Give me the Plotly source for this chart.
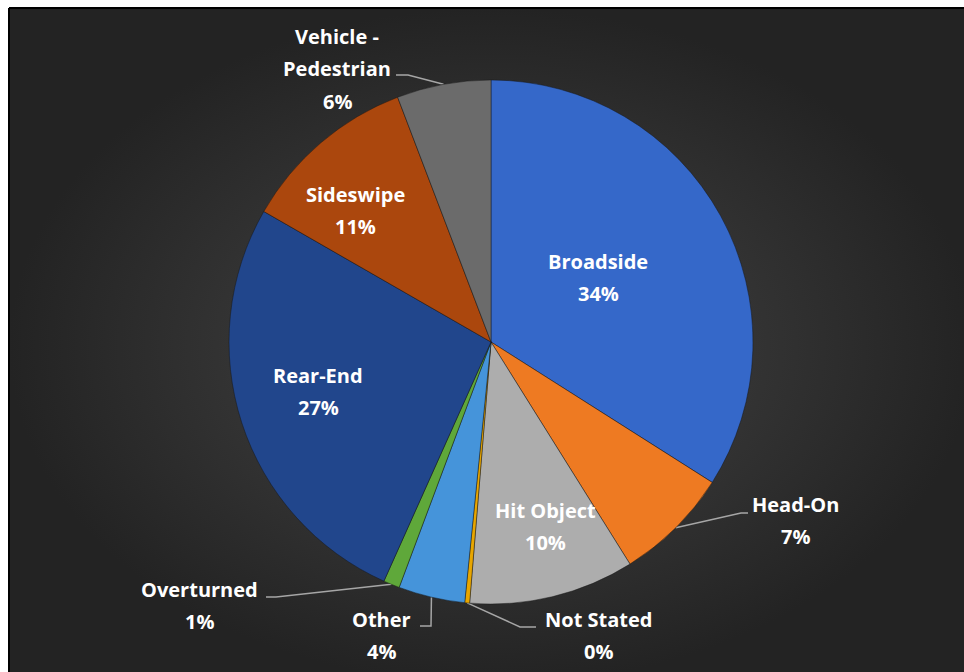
import numpy as np
import plotly.graph_objects as go

# ---- data ----
categories = ["Broadside", "Head-On", "Hit Object", "Not Stated", "Other",
              "Overturned", "Rear-End", "Sideswipe", "Vehicle - Pedestrian"]
values = [34.0, 7.1, 10.2, 0.3, 4.1, 1.0, 26.6, 10.9, 5.8]
colors = ["#3568C9", "#EE7A22", "#ADADAD", "#E8A600", "#4594DA",
          "#5FA83A", "#21468C", "#AB470D", "#6B6B6B"]

# label line splits (text) and layout positions (px from top-left)
label_lines = {
    "Vehicle - Pedestrian": ["Vehicle -", "Pedestrian"],
}
label_pos = {
    "Broadside": (598, 261),
    "Head-On": (795, 504),
    "Hit Object": (545, 510),
    "Not Stated": (598, 619),
    "Other": (381, 619),
    "Overturned": (199, 589),
    "Rear-End": (318, 375),
    "Sideswipe": (355, 194),
    "Vehicle - Pedestrian": (337, 36),
}
leaders = {
    "Head-On": [(741, 513), (748, 513)],
    "Not Stated": [(520, 627), (536, 627)],
    "Other": [(431, 626), (420, 626)],
    "Overturned": [(276, 597), (266, 597)],
    "Vehicle - Pedestrian": [(408, 75), (396, 75)],
}

W, H = 964, 672
cx, cy, R = 491, 342, 262
LINE_H = 32.5

fig = go.Figure()

# background panel with radial gradient
fig.add_trace(go.Scatter(
    x=[9, 975, 975, 9, 9], y=[8, 8, 685, 685, 8],
    mode="lines", fill="toself",
    line=dict(color="black", width=2),
    fillgradient=dict(type="radial",
                      colorscale=[[0, "#464646"], [1, "#232323"]]),
    hoverinfo="skip", showlegend=False))

# pie
fig.add_trace(go.Pie(
    values=values, labels=categories, sort=False, direction="clockwise",
    marker=dict(colors=colors, line=dict(color="rgba(20,20,20,0.45)", width=1)),
    textinfo="none", showlegend=False,
    domain=dict(x=[(cx - R) / W, (cx + R) / W],
                y=[(H - cy - R) / H, (H - cy + R) / H]),
    hoverinfo="label+percent"))

# leader lines, starting at slice mid-angle on the rim
total = sum(values)
cum = np.cumsum([0] + values)
for i, cat in enumerate(categories):
    if cat not in leaders:
        continue
    mid = (cum[i] + values[i] / 2) / total * 2 * np.pi
    sx, sy = cx + R * np.sin(mid), cy - R * np.cos(mid)
    pts = [(sx, sy)] + leaders[cat]
    fig.add_trace(go.Scatter(
        x=[p[0] for p in pts], y=[p[1] for p in pts], mode="lines",
        line=dict(color="#A6A6A6", width=1.5),
        hoverinfo="skip", showlegend=False))

# labels
annotations = []
for i, cat in enumerate(categories):
    pct = f"{round(values[i] / total * 100):.0f}%"
    lines = label_lines.get(cat, [cat]) + [pct]
    x0, y0 = label_pos[cat]
    for k, t in enumerate(lines):
        annotations.append(dict(
            x=x0, y=y0 + k * LINE_H, xref="x", yref="y",
            text=f"<b>{t}</b>", showarrow=False,
            font=dict(family="Open Sans", size=20, color="white"),
            xanchor="center", yanchor="middle"))

fig.update_layout(
    width=W, height=H, margin=dict(l=0, r=0, t=0, b=0),
    paper_bgcolor="white", plot_bgcolor="white",
    xaxis=dict(range=[0, W], visible=False, fixedrange=True, domain=[0, 1]),
    yaxis=dict(range=[H, 0], visible=False, fixedrange=True, domain=[0, 1]),
    annotations=annotations,
)

fig.write_html("out.html")
